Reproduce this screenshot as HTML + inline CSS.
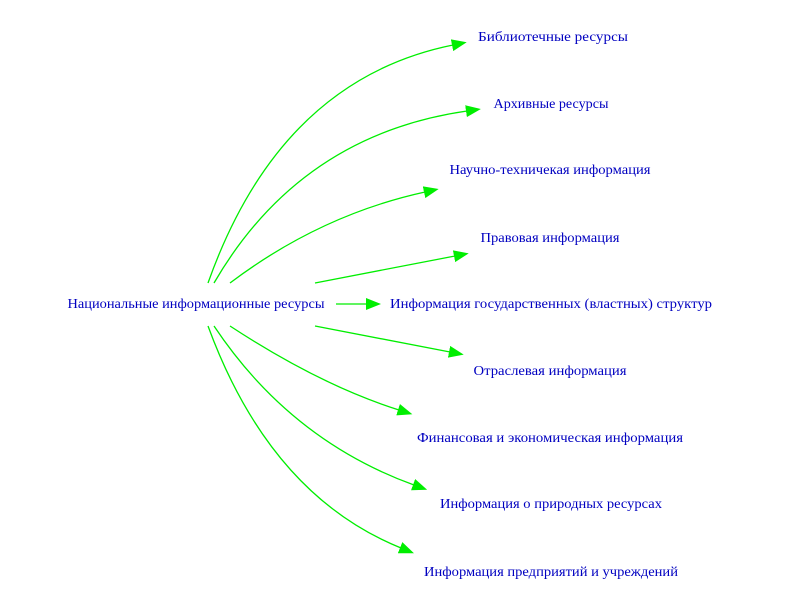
<!DOCTYPE html>
<html><head><meta charset="utf-8"><style>
html,body{margin:0;padding:0;background:#fff;width:800px;height:600px;overflow:hidden}
svg text{font-family:"Liberation Serif","DejaVu Serif",serif;font-size:14px;fill:#0000c0}
</style></head><body>
<svg width="800" height="600" viewBox="0 0 800 600" xmlns="http://www.w3.org/2000/svg">
<defs><marker id="a" viewBox="0 0 15 12" refX="1" refY="6" markerWidth="15" markerHeight="12" markerUnits="userSpaceOnUse" orient="auto"><path d="M0,0 L15,6 L0,12 z" fill="#00ee00"/></marker></defs>
<g fill="none" stroke="#00ee00" stroke-width="1.3" marker-end="url(#a)">
<path d="M208,283 Q280,80 453,45"/>
<path d="M214,283 Q300,135 467,111"/>
<path d="M230,283 Q320,215 425,192"/>
<path d="M315,283 L455,256"/>
<path d="M336,304 L367,304"/>
<path d="M315,326 L450,352"/>
<path d="M230,326 Q320,385 399,410"/>
<path d="M214,326 Q290,440 414,485"/>
<path d="M208,326 Q270,495 401,548"/>
</g>
<g text-anchor="middle" lengthAdjust="spacingAndGlyphs">
<text x="553" y="41" textLength="150" lengthAdjust="spacingAndGlyphs">Библиотечные ресурсы</text>
<text x="551" y="108" textLength="115" lengthAdjust="spacingAndGlyphs">Архивные ресурсы</text>
<text x="550" y="174" textLength="201" lengthAdjust="spacingAndGlyphs">Научно-техничекая информация</text>
<text x="550" y="242" textLength="139" lengthAdjust="spacingAndGlyphs">Правовая информация</text>
<text x="196" y="308" textLength="257" lengthAdjust="spacingAndGlyphs">Национальные информационные ресурсы</text>
<text x="551" y="308" textLength="322" lengthAdjust="spacingAndGlyphs">Информация государственных (властных) структур</text>
<text x="550" y="375" textLength="153" lengthAdjust="spacingAndGlyphs">Отраслевая информация</text>
<text x="550" y="442" textLength="266" lengthAdjust="spacingAndGlyphs">Финансовая и экономическая информация</text>
<text x="551" y="508" textLength="222" lengthAdjust="spacingAndGlyphs">Информация о природных ресурсах</text>
<text x="551" y="576" textLength="254" lengthAdjust="spacingAndGlyphs">Информация предприятий и учреждений</text>
</g>
</svg>
</body></html>
